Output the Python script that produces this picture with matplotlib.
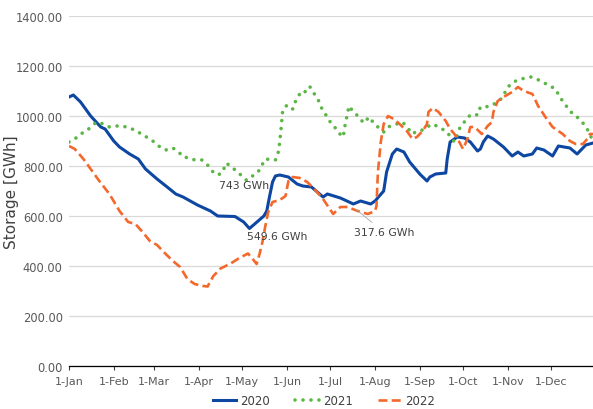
import matplotlib
matplotlib.use("Agg")
from matplotlib import pyplot as plt
import numpy as np

# day of year (0 = 1-Jan) and storage in GWh
days_2020 = [0, 3, 8, 15, 22, 25, 31, 35, 42, 48, 53, 61, 68, 74, 79, 89, 98, 103, 115, 121,
             125, 131, 135, 137, 139, 141, 143, 146, 152, 158, 162, 168, 176, 179, 188, 197, 202, 209, 212, 218,
             220, 224, 227, 232, 236, 243, 248, 250, 254, 261, 262, 264, 269, 274, 278, 283, 285, 287, 290, 294,
             301, 307, 311, 315, 321, 324, 329, 335, 339, 347, 352, 358, 363]
gwh_2020 = [1076, 1084, 1056, 1000, 956, 948, 900, 876, 848, 828, 788, 748, 716, 688, 676, 644, 620, 600, 598, 576,
            550, 580, 600, 620, 680, 736, 760, 764, 756, 728, 720, 716, 676, 688, 672, 648, 660, 648, 660, 700,
            776, 848, 868, 856, 816, 768, 740, 756, 768, 772, 828, 896, 916, 912, 896, 860, 868, 896, 920, 908,
            876, 840, 856, 840, 848, 872, 864, 840, 880, 872, 848, 884, 892]

days_2021 = [0, 4, 8, 12, 16, 19, 24, 28, 33, 37, 42, 47, 51, 55, 59, 63, 67, 72, 76, 79,
             84, 87, 92, 96, 99, 103, 106, 109, 116, 123, 131, 136, 143, 145, 146, 147, 148, 151, 155, 157,
             159, 161, 165, 167, 170, 173, 175, 178, 181, 184, 187, 190, 191, 192, 194, 197, 201, 204, 208, 211,
             214, 218, 221, 225, 227, 231, 234, 238, 241, 245, 248, 252, 256, 261, 264, 267, 271, 273, 276, 280,
             283, 285, 288, 292, 297, 300, 304, 308, 311, 316, 320, 324, 328, 332, 337, 340, 345, 349, 352, 356,
             359, 361, 363]
gwh_2021 = [896, 908, 928, 940, 960, 976, 968, 956, 960, 960, 952, 940, 924, 912, 896, 876, 864, 872, 856, 836,
            832, 824, 824, 804, 780, 764, 772, 812, 780, 743, 776, 828, 824, 856, 896, 956, 1020, 1044, 1028, 1060,
            1080, 1100, 1096, 1116, 1088, 1060, 1032, 1004, 976, 956, 932, 916, 956, 984, 1040, 1016, 996, 972, 996, 972,
            956, 936, 956, 964, 968, 976, 956, 928, 940, 944, 956, 968, 956, 940, 920, 896, 956, 968, 996, 1008,
            1004, 1036, 1036, 1040, 1056, 1072, 1116, 1136, 1144, 1152, 1156, 1148, 1136, 1124, 1108, 1076, 1036, 1008, 996, 972,
            948, 920, 908]

days_2022 = [0, 4, 10, 16, 21, 28, 35, 41, 46, 51, 56, 61, 67, 72, 77, 82, 87, 93, 96, 100,
             105, 112, 118, 124, 127, 130, 132, 134, 136, 138, 141, 146, 150, 152, 155, 160, 165, 170, 176, 183,
             188, 193, 200, 207, 212, 213, 214, 216, 218, 221, 225, 229, 234, 238, 241, 245, 248, 249, 252, 256,
             261, 264, 267, 270, 273, 276, 278, 281, 286, 290, 293, 294, 297, 301, 307, 311, 315, 321, 325, 330,
             335, 342, 347, 351, 356, 359, 361, 363]
gwh_2022 = [880, 868, 828, 780, 740, 688, 620, 576, 568, 536, 500, 484, 448, 420, 396, 348, 328, 320, 318, 360,
            390, 410, 432, 450, 430, 408, 448, 496, 560, 616, 656, 664, 680, 740, 756, 752, 736, 708, 668, 608,
            636, 636, 620, 608, 620, 640, 776, 896, 968, 1000, 988, 968, 940, 908, 916, 940, 968, 1016, 1032, 1016,
            980, 948, 928, 900, 868, 908, 956, 956, 928, 960, 976, 1016, 1060, 1076, 1096, 1116, 1100, 1088, 1040, 996,
            956, 928, 900, 888, 888, 908, 928, 928]

month_starts = [0, 31, 59, 90, 120, 151, 181, 212, 243, 273, 304, 334]
month_labels = ['1-Jan', '1-Feb', '1-Mar', '1-Apr', '1-May', '1-Jun',
                '1-Jul', '1-Aug', '1-Sep', '1-Oct', '1-Nov', '1-Dec']

plt.rcParams['font.family'] = ['Liberation Sans Narrow', 'DejaVu Sans']

fig = plt.figure(figsize=(5.93, 4.10), dpi=100)
ax = fig.add_axes([69 / 593, 1 - 367 / 410, 524 / 593, 350 / 410])

ax.plot(days_2020, gwh_2020, color='#0D47A1', lw=2.2, label='2020', solid_joinstyle='round')
ax.plot(days_2021, gwh_2021, color='#5CB646', lw=2.6, linestyle=(0, (0.01, 2.2)),
        dash_capstyle='round', label='2021')
ax.plot(days_2022, gwh_2022, color='#F4682C', lw=1.9, linestyle=(0, (3.4, 1.6)), label='2022')

ax.set_xlim(0, 363)
ax.set_ylim(0, 1400)
ax.set_yticks(np.arange(0, 1401, 200))
ax.set_yticklabels(['%.2f' % v for v in np.arange(0, 1401, 200)])
ax.set_xticks(month_starts)
ax.set_xticklabels(month_labels)
ax.grid(axis='y', color='#D9D9D9', lw=0.9)
ax.set_axisbelow(True)
for s in ['top', 'right', 'left']:
    ax.spines[s].set_visible(False)
ax.spines['bottom'].set_color('#000000')
ax.spines['bottom'].set_linewidth(0.9)
ax.tick_params(axis='y', length=0, pad=4.5, labelsize=8.3, labelcolor='#595959')
ax.tick_params(axis='x', length=3, direction='out', color='#404040', pad=4,
               labelsize=8, labelcolor='#595959')

ax.set_ylabel('Storage [GWh]', fontsize=11, color='#404040')
ax.yaxis.set_label_coords((19 - 69) / 524, 0.5)

ax.text(121, 724, '743 GWh', ha='center', va='center', fontsize=7.8, color='#404040')
ax.text(144, 520, '549.6 GWh', ha='center', va='center', fontsize=7.8, color='#404040')
ax.annotate('317.6 GWh', xy=(199, 626), xytext=(218, 536), ha='center', va='center',
            fontsize=7.8, color='#404040',
            arrowprops=dict(arrowstyle='-', color='#A6A6A6', lw=0.6, shrinkA=2, shrinkB=0))

fig.legend(loc='center', bbox_to_anchor=(324 / 593, 1 - 402 / 410), ncol=3, frameon=False,
           fontsize=8.5, handlelength=2.0, columnspacing=2.1, handletextpad=0.35,
           labelcolor='#404040')

fig.savefig('out.png', dpi=100)
